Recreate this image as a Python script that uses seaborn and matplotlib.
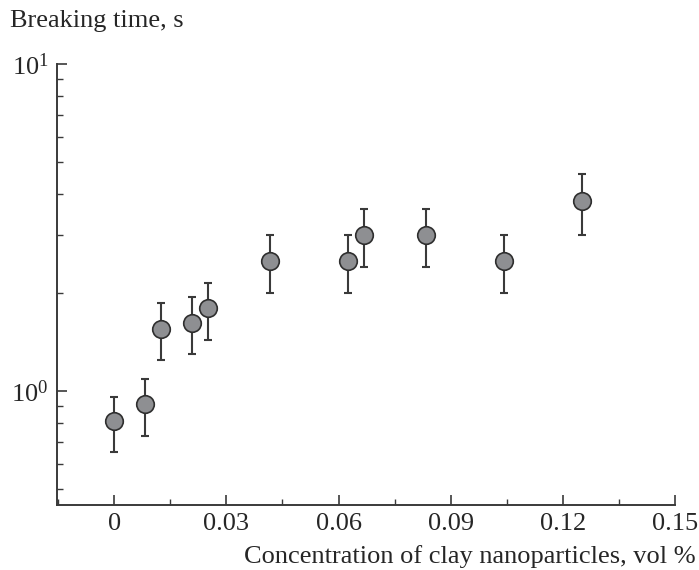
import matplotlib
matplotlib.use("Agg")
import matplotlib.pyplot as plt
from matplotlib import ticker
import numpy as np
import pandas as pd
import seaborn as sns

# clay concentration (vol %) and breaking time (s)
conc = [0, 0.0083, 0.0125, 0.0208, 0.025, 0.0417, 0.0625, 0.0667, 0.0833, 0.1042, 0.125]
t_break = [0.81, 0.91, 1.55, 1.61, 1.79, 2.5, 2.5, 3.0, 3.0, 2.5, 3.8]
t_low = [0.65, 0.73, 1.24, 1.30, 1.43, 2.0, 2.0, 2.4, 2.4, 2.0, 3.0]
t_high = [0.96, 1.09, 1.86, 1.94, 2.14, 3.0, 3.0, 3.6, 3.6, 3.0, 4.6]

xticks = [0, 0.03, 0.06, 0.09, 0.12, 0.15]
xtick_labels = ["0", "0.03", "0.06", "0.09", "0.12", "0.15"]

sns.set_style("ticks")
plt.rcParams['font.family'] = ['Liberation Serif', 'DejaVu Serif']
plt.rcParams['mathtext.fontset'] = 'custom'
plt.rcParams['mathtext.rm'] = 'Liberation Serif'
plt.rcParams['mathtext.it'] = 'Liberation Serif:italic'

df = pd.DataFrame({"conc": conc, "t": t_break})
err = np.array([np.array(t_break) - np.array(t_low), np.array(t_high) - np.array(t_break)])

fig = plt.figure(figsize=(6.99, 5.70), dpi=100)
ax = fig.add_axes([57 / 699, 65 / 570, (675 - 57) / 699, (505 - 64) / 570])

edge = "#3a3a3a"
ax.errorbar(conc, t_break, yerr=err, fmt="none", ecolor=edge, elinewidth=1.5,
            capsize=2.8, capthick=1.5, zorder=2)
sns.scatterplot(data=df, x="conc", y="t", ax=ax, s=160, color="#8e8f92",
                edgecolor="#2e2e2e", linewidth=1.2, zorder=3, legend=False)

ax.set_yscale("log")
ax.set_xlim(-0.0153, 0.15)
ax.set_ylim(0.448, 10)
ax.set_xticks(xticks)
ax.set_xticklabels(xtick_labels)
ax.xaxis.set_minor_locator(ticker.MultipleLocator(0.015))
ax.yaxis.set_major_locator(ticker.LogLocator(base=10))
ax.yaxis.set_minor_locator(ticker.LogLocator(base=10, subs=np.arange(2, 10)))
ax.yaxis.set_minor_formatter(ticker.NullFormatter())

ax.set_xlabel("")
ax.set_ylabel("")
sns.despine(ax=ax)
for s in ["left", "bottom"]:
    ax.spines[s].set_color(edge)
    ax.spines[s].set_linewidth(1.4)

ax.tick_params(which="major", direction="in", length=7, width=1.2, color=edge,
               labelsize=19, pad=6)
ax.tick_params(which="minor", direction="in", length=4, width=1.0, color=edge)

fig.text(10 / 699, 1 - 10 / 570, "Breaking time, s", fontsize=19, ha="left", va="top")
fig.text(696 / 699, 7 / 570, "Concentration of clay nanoparticles, vol %",
         fontsize=19, ha="right", va="baseline")

fig.savefig("out.png", dpi=100)
